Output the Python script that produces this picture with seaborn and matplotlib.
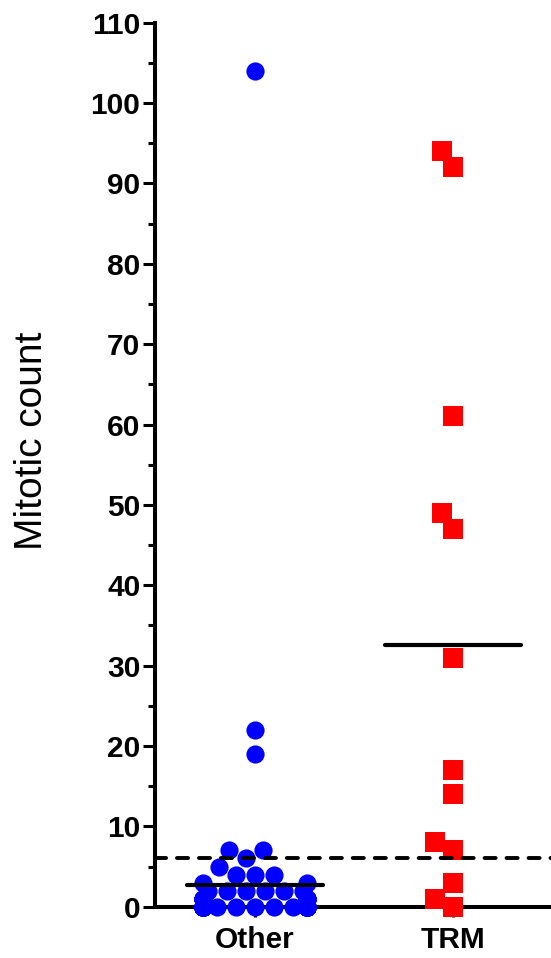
import warnings
import numpy as np
import pandas as pd
import matplotlib
matplotlib.use("Agg")
import matplotlib.pyplot as plt
from matplotlib.ticker import MultipleLocator
import seaborn as sns

# Mitotic counts per tumour group
groups = ["Other", "TRM"]
other_counts = ([0] * 48 + [1] * 14 + [2] * 6 + [3] * 2 + [4] * 3
                + [5, 6, 7, 7, 19, 22, 104])
trm_counts = [0, 1, 3, 7, 8, 14, 17, 31, 47, 49, 61, 92, 94]
threshold = 6
y_ticks = list(range(0, 111, 10))

colors = {"Other": "#0000ff", "TRM": "#ff0000"}
markers = {"Other": "o", "TRM": "s"}
marker_sizes = {"Other": 13.1, "TRM": 13.7}

# x position of each group; the gap keeps each swarm (0.8 units wide) compact
group_gap = 1.523
group_pos = {g: i * group_gap for i, g in enumerate(groups)}

df = pd.DataFrame({
    "group": ["Other"] * len(other_counts) + ["TRM"] * len(trm_counts),
    "count": other_counts + trm_counts,
})
df["pos"] = df["group"].map(group_pos)

sns.set_theme(style="ticks")
plt.rcParams["font.family"] = ["Liberation Sans", "DejaVu Sans"]

W, H, DPI = 551, 958, 100
fig = plt.figure(figsize=(W / DPI, H / DPI), dpi=DPI)
ax = fig.add_axes([155 / W, (H - 906.7) / H, (W - 155) / W, 884 / H])

warnings.filterwarnings("ignore", category=UserWarning)
for g in groups:
    sns.swarmplot(data=df[df["group"] == g], x="pos", y="count",
                  native_scale=True, color=colors[g], marker=markers[g],
                  size=marker_sizes[g], linewidth=0, clip_on=False, zorder=3,
                  ax=ax)

# group means
means = df.groupby("group")["count"].mean().reindex(groups)
centers = np.array([group_pos[g] for g in groups])
half = 0.52
ax.hlines(means.values, centers - half, centers + half, colors="black",
          linewidth=3, zorder=5, capstyle="round")

# cut-off line
ax.axhline(threshold, color="black", linewidth=2.8, linestyle=(0, (2.85, 2.8)),
           dash_capstyle="round", zorder=4)

ax.set_xlim(-0.769, group_gap + 0.754)
ax.set_ylim(0, 110)
ax.set_xticks(centers, groups)
ax.set_yticks(y_ticks)
ax.yaxis.set_minor_locator(MultipleLocator(5))

for side in ("top", "right"):
    ax.spines[side].set_visible(False)
for side in ("left", "bottom"):
    ax.spines[side].set_linewidth(2.9)
    ax.spines[side].set_color("black")
    ax.spines[side].set_capstyle("projecting")

ax.tick_params(axis="y", which="major", length=8.6, width=2.2, pad=2,
               color="black", labelsize=21.5, labelcolor="black")
ax.tick_params(axis="y", which="minor", length=5, width=2.2, color="black")
ax.tick_params(axis="x", which="major", length=7, width=2.2, pad=7,
               color="black", labelsize=21.5, labelcolor="black")
ax.tick_params(axis="x", which="minor", bottom=False)
for lab in ax.get_xticklabels() + ax.get_yticklabels():
    lab.set_fontweight("bold")

ax.set_xlabel("")
ax.set_ylabel("Mitotic count", fontsize=28, color="black")
ax.yaxis.set_label_coords(-0.265, 0.527)

fig.savefig("out.png", dpi=DPI, facecolor="white")
